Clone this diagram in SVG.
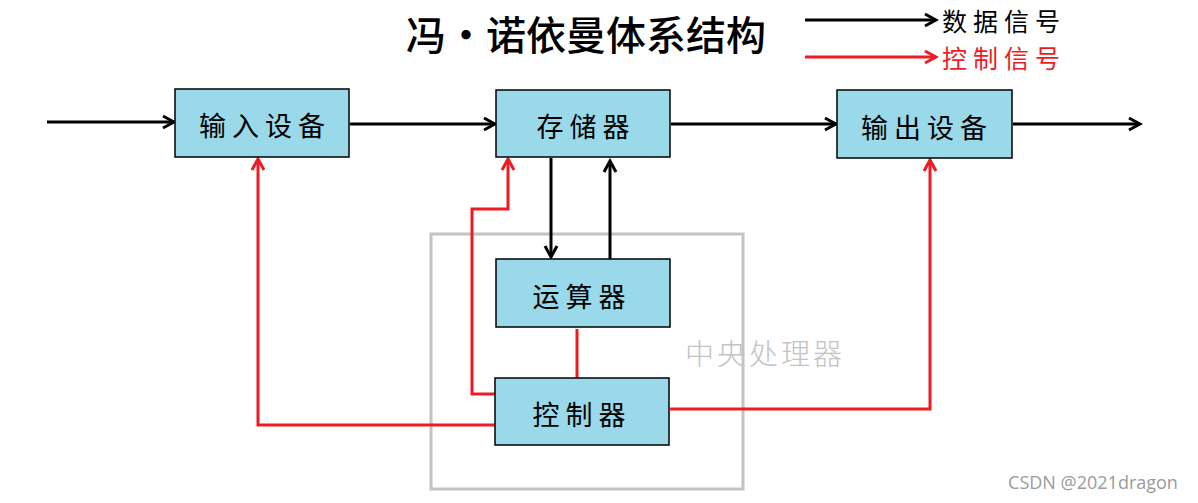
<svg xmlns="http://www.w3.org/2000/svg" width="1198" height="503" viewBox="0 0 1198 503">
<style>
.box{fill:#99d9ea;stroke:#000;stroke-width:1.5}
.lbl{font-family:"Noto Sans CJK SC",sans-serif;font-size:27px;fill:#000;text-anchor:middle;dominant-baseline:central;letter-spacing:6px}
.blk{fill:none;stroke:#000;stroke-width:3}
.red{fill:none;stroke:#ed1c24;stroke-width:3}
.leg{font-family:"Noto Sans CJK SC",sans-serif;font-size:25px;dominant-baseline:central;letter-spacing:6px}
</style>
<defs>
<marker id="ab" markerUnits="userSpaceOnUse" markerWidth="16" markerHeight="16" refX="13" refY="8" orient="auto"><path d="M2,2 L13,8 L2,14" fill="none" stroke="#000" stroke-width="3"/></marker>
<marker id="ar" markerUnits="userSpaceOnUse" markerWidth="16" markerHeight="16" refX="13" refY="8" orient="auto"><path d="M2,2 L13,8 L2,14" fill="none" stroke="#ed1c24" stroke-width="3"/></marker>
</defs>
<rect width="1198" height="503" fill="#fff"/>
<text x="586" y="33" font-family="'Noto Sans CJK SC',sans-serif" font-size="40" font-weight="500" text-anchor="middle" dominant-baseline="central" fill="#000">冯•诺依曼体系结构</text>
<g id="legend">
<line x1="805" y1="20" x2="936" y2="20" class="blk" marker-end="url(#ab)"/>
<text x="942" y="20" class="leg" fill="#000">数据信号</text>
<line x1="805" y1="57" x2="936" y2="57" class="red" marker-end="url(#ar)"/>
<text x="942" y="57" class="leg" fill="#ed1c24">控制信号</text>
</g>
<g id="cpu">
<rect x="431" y="234" width="312" height="255" fill="none" stroke="#c3c3c3" stroke-width="3"/>
<text x="765" y="352" font-family="'Noto Sans CJK SC',sans-serif" font-size="29" font-weight="300" text-anchor="middle" dominant-baseline="central" fill="#c3c3c3" letter-spacing="3">中央处理器</text>
</g>
<g id="connectors">
<line x1="47" y1="122" x2="174" y2="122" class="blk" marker-end="url(#ab)"/>
<line x1="350" y1="124" x2="495" y2="124" class="blk" marker-end="url(#ab)"/>
<line x1="671" y1="124" x2="836" y2="124" class="blk" marker-end="url(#ab)"/>
<line x1="1013" y1="124" x2="1140" y2="124" class="blk" marker-end="url(#ab)"/>
<line x1="551" y1="158" x2="551" y2="257" class="blk" marker-end="url(#ab)"/>
<line x1="610" y1="259" x2="610" y2="161" class="blk" marker-end="url(#ab)"/>
<polyline points="495,394 472,394 472,209 508,209 508,159" class="red" marker-end="url(#ar)"/>
<line x1="577" y1="329" x2="577" y2="378" class="red"/>
<polyline points="495,425 258,425 258,159" class="red" marker-end="url(#ar)"/>
<polyline points="670,409 930,409 930,160" class="red" marker-end="url(#ar)"/>
</g>
<g id="input"><rect x="175" y="89" width="174" height="68" class="box"/><text x="265" y="124" class="lbl">输入设备</text></g>
<g id="memory"><rect x="496" y="90" width="174" height="67" class="box"/><text x="586" y="125" class="lbl">存储器</text></g>
<g id="output"><rect x="837" y="90" width="175" height="68" class="box"/><text x="927" y="126" class="lbl">输出设备</text></g>
<g id="alu"><rect x="496" y="259" width="174" height="68" class="box"/><text x="582" y="295" class="lbl">运算器</text></g>
<g id="control"><rect x="495" y="378" width="174" height="67" class="box"/><text x="582" y="413" class="lbl">控制器</text></g>
<text x="1093" y="482" font-family="'Open Sans',sans-serif" font-size="18" text-anchor="middle" dominant-baseline="central" fill="#9a9a9a">CSDN @2021dragon</text>
</svg>
